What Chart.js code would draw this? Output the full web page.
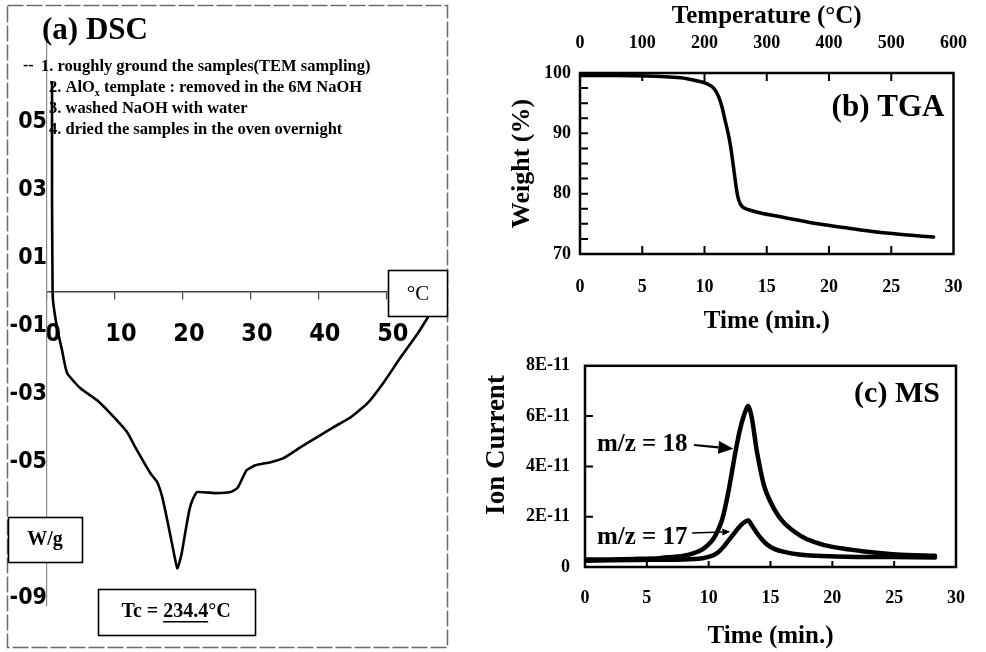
<!DOCTYPE html>
<html><head><meta charset="utf-8">
<script src="https://cdn.jsdelivr.net/npm/chart.js@4.4.0/dist/chart.umd.min.js"></script>
<style>
html,body{margin:0;padding:0;background:#fff;}
#wrap{position:relative;width:986px;height:652px;overflow:hidden;background:#fff;}
#wrap canvas{position:absolute;}
</style></head><body>
<div id="wrap">
<canvas id="dsc" width="460" height="652" style="left:0;top:0;"></canvas>
<canvas id="tga" width="516" height="340" style="left:470px;top:0;"></canvas>
<canvas id="ms" width="516" height="312" style="left:470px;top:340px;"></canvas>
</div>
<script>
// ---------- DATA ----------
// (a) DSC : temperature (x10 °C) vs heat flow (W/g)
const dscTemp = [0.74,0.74,0.81,0.88,1.47,2.21,2.95,4.87,7.37,9.29,11.80,12.98,15.19,16.22,16.96,17.70,18.44,19.17,19.76,20.35,20.94,21.39,22.12,24.78,26.99,28.02,28.76,29.35,30.68,32.89,34.81,37.32,42.18,44.69,47.20,49.56,52.06,54.57,56.05];
const dscHeat = [0.615,0.27,0.035,-0.024,-0.103,-0.171,-0.238,-0.282,-0.318,-0.356,-0.412,-0.456,-0.532,-0.559,-0.603,-0.671,-0.744,-0.812,-0.774,-0.706,-0.641,-0.612,-0.588,-0.591,-0.588,-0.576,-0.547,-0.524,-0.509,-0.500,-0.488,-0.456,-0.397,-0.368,-0.326,-0.265,-0.191,-0.121,-0.074];
const dscXTicks = [0,10,20,30,40,50];
const dscYTicks = [0.5,0.3,0.1,-0.1,-0.3,-0.5,-0.7,-0.9];

// (b) TGA : time (min) vs weight (%)
const tgaTime   = [0,3,5.4,7.5,8.5,9.8,10.5,10.85,11.15,11.4,11.65,11.9,12.1,12.25,12.4,12.55,12.7,12.9,13.2,14.5,16.3,18.8,21.5,24,26.6,28.4];
const tgaWeight = [99.6,99.6,99.5,99.3,99.1,98.5,97.9,97.2,96.0,94.4,92.2,90.0,87.8,85.6,83.3,81.0,79.3,78.2,77.6,76.8,76.1,75.1,74.3,73.6,73.1,72.8];
const tgaTimeTicks = [0,5,10,15,20,25,30];
const tgaTempTicks = [0,100,200,300,400,500,600];
const tgaWeightTicks = [70,80,90,100];
const tgaWeightMinor = [72.5,75,77.5,80,82.5,85,87.5,90,92.5,95,97.5];
const tgaTimeInner = [5,10,15,20,25];
const tgaTempInner = [100,200,300,400,500];

// (c) MS : time (min) vs ion current (x1E-11)
const msTime18 = [0,2,4,6,7,8,8.8,9.5,10.2,10.6,11.1,11.6,12.1,12.5,12.9,13.2,13.5,13.9,14.5,15.3,16.1,17.4,18.5,20.0,22.6,25.2,28.3];
const ms18     = [0.30,0.30,0.32,0.35,0.40,0.45,0.55,0.70,1.00,1.30,1.90,3.00,4.40,5.40,6.10,6.40,5.90,4.60,3.20,2.30,1.75,1.25,1.00,0.80,0.62,0.50,0.45];
const msTime17 = [0,4,8,9.5,10.3,10.8,11.2,11.6,12.0,12.4,12.8,13.2,13.5,13.9,14.3,14.7,15.3,16.1,17.3,18.6,22,25,28.3];
const ms17     = [0.25,0.28,0.30,0.35,0.45,0.60,0.80,1.05,1.30,1.55,1.75,1.85,1.65,1.35,1.10,0.90,0.72,0.60,0.50,0.45,0.40,0.40,0.38];
const msTimeTicks = [0,5,10,15,20,25,30];
const msCurrentTicks = [0,2,4,6,8];
const msCurrentInner = [2,4,6];
const msTimeInner = [5,10,15,20,25];

// ---------- STYLE ----------
const SERIF = '"Liberation Serif", "Times New Roman", "DejaVu Serif", serif';
const NARROW = '"Liberation Sans Narrow", "Arial Narrow", "DejaVu Sans Condensed", "Liberation Sans", sans-serif';

const DECO = {
  dsc: {
    under: [
      {type:'text', x:42, y:31, text:'(a) DSC', size:31},
      {type:'text', x:23, y:66, text:'--', size:16},
      {type:'text', x:41, y:67, text:'1. roughly ground the samples(TEM sampling)', size:16.5},
      {type:'text', x:49, y:88, text:[{t:'2. AlO'},{t:'x',sub:true},{t:' template : removed in the 6M NaOH'}], size:16.5},
      {type:'text', x:49, y:109, text:'3. washed NaOH with water', size:16.5},
      {type:'text', x:49, y:130, text:'4. dried the samples in the oven overnight', size:16.5}
    ],
    over: [
      {type:'dashrect', x:7.5, y:5.5, w:440, h:642, color:'#6a6a6a', lw:1.5, dash:[16,3]},
      {type:'box', x:388, y:270, w:59, h:46},
      {type:'text', x:418, y:294, text:'°C', size:21, weight:'normal', align:'center'},
      {type:'box', x:8, y:517, w:74, h:45},
      {type:'text', x:45, y:540, text:'W/g', size:20, align:'center'},
      {type:'box', x:98, y:589, w:157, h:46},
      {type:'text', x:176, y:612, text:[{t:'Tc = '},{t:'234.4',ul:true},{t:'°C'}], size:20, align:'center'}
    ]
  },
  tga: {
    over: [
      {type:'frame', lw:2.5},
      {type:'ticks', scale:'y', side:'left', values:tgaWeightMinor, len:8},
      {type:'ticks', scale:'x', side:'bottom', values:tgaTimeInner, len:8},
      {type:'ticks', scale:'x2', side:'top', values:tgaTempInner, len:8},
      {type:'text', x:418, y:108, text:'(b) TGA', size:31, align:'center'}
    ]
  },
  ms: {
    over: [
      {type:'frame', lw:2.5},
      {type:'ticks', scale:'y', side:'left', values:msCurrentInner, len:8},
      {type:'ticks', scale:'x', side:'bottom', values:msTimeInner, len:6},
      {type:'text', x:27, y:105, text:'Ion Current', size:27, align:'center', rot:-Math.PI/2},
      {type:'text', x:427, y:54, text:'(c) MS', size:30, align:'center'},
      {type:'text', x:127, y:105, text:'m/z = 18', size:25},
      {type:'text', x:127, y:198, text:'m/z = 17', size:25},
      {type:'arrow', from:[224,105], tip:[12.0,4.7], head:[15,13], lw:2.2},
      {type:'arrow', from:[222,193], tip:[11.75,1.4], head:[8,7], lw:1.5}
    ]
  }
};

function drawText(ctx, it) {
  const segs = typeof it.text === 'string' ? [{t: it.text}] : it.text;
  const wt = it.weight || 'bold';
  const fam = it.family || SERIF;
  const f = sg => wt + ' ' + (sg.sub ? Math.round(it.size * 0.62) : it.size) + 'px ' + fam;
  let total = 0;
  const ws = segs.map(sg => { ctx.font = f(sg); const w = ctx.measureText(sg.t).width; total += w; return w; });
  ctx.translate(it.x, it.y);
  if (it.rot) ctx.rotate(it.rot);
  let x = it.align === 'center' ? -total / 2 : (it.align === 'right' ? -total : 0);
  ctx.textAlign = 'left'; ctx.textBaseline = 'middle'; ctx.fillStyle = '#000';
  segs.forEach((sg, i) => {
    ctx.font = f(sg);
    ctx.fillText(sg.t, x, sg.sub ? it.size * 0.3 : 0);
    if (sg.ul) ctx.fillRect(x, it.size * 0.45, ws[i], 1.5);
    x += ws[i];
  });
}

function drawList(chart, list) {
  if (!list) return;
  const ctx = chart.ctx, ca = chart.chartArea;
  list.forEach(it => {
    ctx.save();
    if (it.type === 'text') drawText(ctx, it);
    else if (it.type === 'box') {
      ctx.fillStyle = '#fff'; ctx.fillRect(it.x, it.y, it.w, it.h);
      ctx.strokeStyle = '#000'; ctx.lineWidth = 1.6; ctx.strokeRect(it.x + 0.5, it.y + 0.5, it.w, it.h);
    } else if (it.type === 'dashrect') {
      ctx.strokeStyle = it.color; ctx.lineWidth = it.lw; ctx.setLineDash(it.dash);
      ctx.strokeRect(it.x, it.y, it.w, it.h);
    } else if (it.type === 'frame') {
      ctx.strokeStyle = '#000'; ctx.lineWidth = it.lw;
      ctx.strokeRect(ca.left, ca.top, ca.right - ca.left, ca.bottom - ca.top);
    } else if (it.type === 'ticks') {
      const sc = chart.scales[it.scale];
      ctx.strokeStyle = '#000'; ctx.lineWidth = 2; ctx.beginPath();
      it.values.forEach(v => {
        const p = sc.getPixelForValue(v);
        if (it.side === 'left') { ctx.moveTo(ca.left, p); ctx.lineTo(ca.left + it.len, p); }
        else if (it.side === 'bottom') { ctx.moveTo(p, ca.bottom); ctx.lineTo(p, ca.bottom - it.len); }
        else { ctx.moveTo(p, ca.top); ctx.lineTo(p, ca.top + it.len); }
      });
      ctx.stroke();
    } else if (it.type === 'arrow') {
      const tx = chart.scales.x.getPixelForValue(it.tip[0]);
      const ty = chart.scales.y.getPixelForValue(it.tip[1]);
      const fx = it.from[0], fy = it.from[1];
      const a = Math.atan2(ty - fy, tx - fx);
      const hl = it.head[0], hw = it.head[1];
      const bx = tx - hl * Math.cos(a), by = ty - hl * Math.sin(a);
      ctx.strokeStyle = '#000'; ctx.lineWidth = it.lw;
      ctx.beginPath(); ctx.moveTo(fx, fy); ctx.lineTo(bx, by); ctx.stroke();
      ctx.fillStyle = '#000'; ctx.beginPath();
      ctx.moveTo(tx, ty);
      ctx.lineTo(bx + hw / 2 * Math.sin(a), by - hw / 2 * Math.cos(a));
      ctx.lineTo(bx - hw / 2 * Math.sin(a), by + hw / 2 * Math.cos(a));
      ctx.closePath(); ctx.fill();
    }
    ctx.restore();
  });
}

const deco = {
  id: 'deco',
  beforeDatasetsDraw(chart) { drawList(chart, (DECO[chart.canvas.id] || {}).under); },
  afterDraw(chart) { drawList(chart, (DECO[chart.canvas.id] || {}).over); }
};

const pts = (xs, ys) => xs.map((x, i) => ({x: x, y: ys[i]}));
const setTicks = arr => (s => { s.ticks = arr.map(v => ({value: v})); });
const common = {responsive: false, animation: false, events: [],
  plugins: {legend: {display: false}, tooltip: {enabled: false}}};

// ---------- (a) DSC ----------
new Chart(document.getElementById('dsc'), {
  type: 'line',
  data: {datasets: [{data: pts(dscTemp, dscHeat), borderColor: '#000', borderWidth: 2.6,
    pointRadius: 0, tension: 0.15, fill: false, borderJoinStyle: 'round', borderCapStyle: 'round'}]},
  options: Object.assign({}, common, {
    layout: {padding: {top: 37, bottom: 47, left: 0, right: 12}},
    scales: {
      x: {type: 'linear', position: {y: 0}, min: 0, max: 59,
        afterBuildTicks: setTicks(dscXTicks),
        grid: {drawOnChartArea: false, drawTicks: true, tickLength: 7, color: '#444', lineWidth: 1.2},
        border: {display: true, color: '#444', width: 1.5},
        ticks: {font: {family: NARROW, size: 25, weight: 'bold'}, color: '#000', padding: 20,
          labelOffset: 6, maxRotation: 0, autoSkip: false}},
      y: {type: 'linear', min: -0.92, max: 0.75,
        afterBuildTicks: setTicks(dscYTicks),
        afterFit: s => { s.width = 47; },
        grid: {display: false, drawTicks: false},
        border: {display: true, color: '#888', width: 1.2, dash: [5, 4]},
        ticks: {font: {family: NARROW, size: 23, weight: 'bold'}, color: '#000', padding: 0, autoSkip: false,
          callback: v => v.toFixed(1).replace('.', '')}}
    }
  }),
  plugins: [deco]
});

// ---------- (b) TGA ----------
new Chart(document.getElementById('tga'), {
  type: 'line',
  data: {datasets: [{data: pts(tgaTime, tgaWeight), borderColor: '#000', borderWidth: 3.5,
    pointRadius: 0, tension: 0.2, fill: false, xAxisID: 'x', yAxisID: 'y',
    borderJoinStyle: 'round', borderCapStyle: 'round'}]},
  options: Object.assign({}, common, {
    layout: {padding: {top: 0, bottom: 0, left: 0, right: 19}},
    scales: {
      x: {type: 'linear', position: 'bottom', min: 0, max: 30,
        afterBuildTicks: setTicks(tgaTimeTicks), afterFit: s => { s.height = 86; },
        grid: {display: false, drawTicks: false}, border: {display: false},
        ticks: {font: {family: SERIF, size: 18, weight: 'bold'}, color: '#000', padding: 23, maxRotation: 0, autoSkip: false},
        title: {display: true, text: 'Time (min.)', color: '#000', font: {family: SERIF, size: 25, weight: 'bold'},
          padding: {top: 0, bottom: 3}}},
      x2: {type: 'linear', axis: 'x', position: 'top', min: 0, max: 600,
        afterBuildTicks: setTicks(tgaTempTicks), afterFit: s => { s.height = 73; },
        grid: {display: false, drawTicks: false}, border: {display: false},
        ticks: {font: {family: SERIF, size: 18, weight: 'bold'}, color: '#000', padding: 19, maxRotation: 0, autoSkip: false},
        title: {display: true, text: 'Temperature (°C)', color: '#000', font: {family: SERIF, size: 25, weight: 'bold'},
          padding: {top: 2, bottom: 0}}},
      y: {type: 'linear', position: 'left', min: 70, max: 100,
        afterBuildTicks: setTicks(tgaWeightTicks), afterFit: s => { s.width = 110; },
        grid: {display: false, drawTicks: false}, border: {display: false},
        ticks: {font: {family: SERIF, size: 18, weight: 'bold'}, color: '#000', padding: 9, autoSkip: false},
        title: {display: true, text: 'Weight (%)', color: '#000', font: {family: SERIF, size: 26, weight: 'bold'},
          padding: {top: 37, bottom: 0}}}
    }
  }),
  plugins: [deco]
});

// ---------- (c) MS ----------
new Chart(document.getElementById('ms'), {
  type: 'line',
  data: {datasets: [
    {label: 'm/z = 18', data: pts(msTime18, ms18), borderColor: '#000', borderWidth: 4.5,
      pointRadius: 0, tension: 0.25, fill: false, borderJoinStyle: 'round', borderCapStyle: 'round'},
    {label: 'm/z = 17', data: pts(msTime17, ms17), borderColor: '#000', borderWidth: 4.5,
      pointRadius: 0, tension: 0.25, fill: false, borderJoinStyle: 'round', borderCapStyle: 'round'}
  ]},
  options: Object.assign({}, common, {
    layout: {padding: {top: 21, bottom: 0, left: 0, right: 18}},
    scales: {
      x: {type: 'linear', position: 'bottom', min: 0, max: 30,
        afterBuildTicks: setTicks(msTimeTicks), afterFit: s => { s.height = 85; },
        grid: {display: false, drawTicks: false}, border: {display: false},
        ticks: {font: {family: SERIF, size: 18, weight: 'bold'}, color: '#000', padding: 21, maxRotation: 0, autoSkip: false},
        title: {display: true, text: 'Time (min.)', color: '#000', font: {family: SERIF, size: 25, weight: 'bold'},
          padding: {top: 0, bottom: 0}}},
      y: {type: 'linear', position: 'left', min: 0, max: 8,
        afterBuildTicks: setTicks(msCurrentTicks), afterFit: s => { s.width = 115; },
        grid: {display: false, drawTicks: false}, border: {display: false},
        ticks: {font: {family: SERIF, size: 18, weight: 'bold'}, color: '#000', padding: 15, autoSkip: false,
          callback: v => v === 0 ? '0' : v + 'E-11'}}
    }
  }),
  plugins: [deco]
});
</script>
</body></html>
